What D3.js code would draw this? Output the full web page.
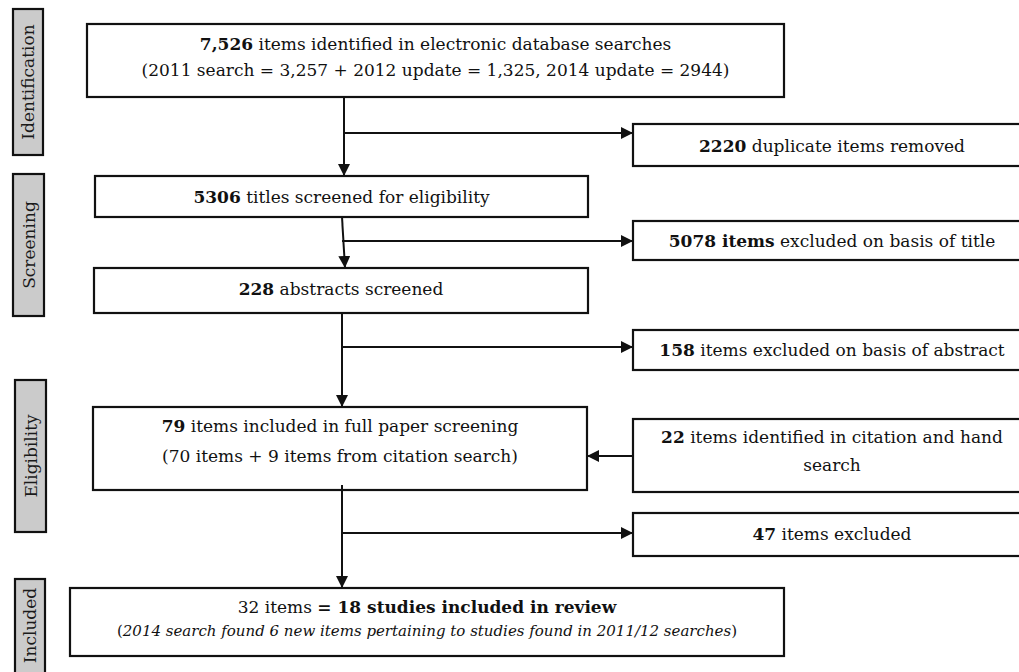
<!DOCTYPE html>
<html>
<head>
<meta charset="utf-8">
<script src="https://cdn.jsdelivr.net/npm/d3@7"></script>
<style>
  html, body { margin: 0; padding: 0; background: #fff; }
  svg { display: block; }
</style>
</head>
<body>
<svg id="flow"></svg>
<script>
// ---- data: stage labels and box texts (b = bold, i = italic) ----
const stageLabels = ['Identification', 'Screening', 'Eligibility', 'Included'];

const identText = [
  [{t: '7,526', b: true}, {t: ' items identified in electronic database searches'}],
  [{t: '(2011 search = 3,257 + 2012 update = 1,325, 2014 update = 2944)'}]
];
const duplicateText = [[{t: '2220', b: true}, {t: ' duplicate items removed'}]];
const titlesText    = [[{t: '5306', b: true}, {t: ' titles screened for eligibility'}]];
const titleExclText = [[{t: '5078 items', b: true}, {t: ' excluded on basis of title'}]];
const abstractText  = [[{t: '228', b: true}, {t: ' abstracts screened'}]];
const absExclText   = [[{t: '158', b: true}, {t: ' items excluded on basis of abstract'}]];
const fullText = [
  [{t: '79', b: true}, {t: ' items included in full paper screening'}],
  [{t: '(70 items + 9 items from citation search)'}]
];
const handText = [
  [{t: '22', b: true}, {t: ' items identified in citation and hand'}],
  [{t: 'search'}]
];
const fullExclText = [[{t: '47', b: true}, {t: ' items excluded'}]];
const includedText = [
  [{t: '32 items '}, {t: '= 18 studies included in review', b: true}],
  [{t: '('}, {t: '2014 search found 6 new items pertaining to studies found in 2011/12 searches', i: true}, {t: ')'}]
];

// ---- layout ----
const W = 1019, H = 672;
const FONT = "'DejaVu Serif', 'Liberation Serif', serif";

const svg = d3.select('#flow').attr('width', W).attr('height', H);

const defs = svg.append('defs');
defs.append('marker')
  .attr('id', 'arrow')
  .attr('viewBox', '0 0 12 12')
  .attr('refX', 12).attr('refY', 6)
  .attr('markerWidth', 12).attr('markerHeight', 12)
  .attr('markerUnits', 'userSpaceOnUse')
  .attr('orient', 'auto')
  .append('path').attr('d', 'M0,0 L12,6 L0,12 Z').attr('fill', '#111');

// stage side labels
const stageBoxes = [
  {x: 13, y: 9,   w: 30, h: 146},
  {x: 13, y: 174, w: 31, h: 142},
  {x: 15, y: 380, w: 31, h: 152},
  {x: 15, y: 579, w: 30, h: 100}
];
stageLabels.forEach((label, i) => {
  const s = stageBoxes[i];
  svg.append('rect')
    .attr('x', s.x).attr('y', s.y).attr('width', s.w).attr('height', s.h)
    .attr('fill', '#cbcbcb').attr('stroke', '#111').attr('stroke-width', 2.2);
  svg.append('text')
    .attr('transform', `translate(${s.x + s.w / 2 + 6},${s.y + Math.min(s.h, 672 - s.y) / 2}) rotate(-90)`)
    .attr('text-anchor', 'middle')
    .attr('font-family', FONT).attr('font-size', 17).attr('fill', '#1a1a1a')
    .text(label);
});

// flow boxes
const boxes = [
  {lines: identText,     x: 87,  y: 24,  w: 697, h: 73, base: [50, 76]},
  {lines: duplicateText, x: 633, y: 124, w: 390, h: 42, base: [152]},
  {lines: titlesText,    x: 95,  y: 176, w: 493, h: 41, base: [203]},
  {lines: titleExclText, x: 633, y: 221, w: 390, h: 39, base: [247]},
  {lines: abstractText,  x: 94,  y: 268, w: 494, h: 45, base: [295]},
  {lines: absExclText,   x: 633, y: 330, w: 390, h: 40, base: [356]},
  {lines: fullText,      x: 93,  y: 407, w: 494, h: 83, base: [432, 462]},
  {lines: handText,      x: 633, y: 419, w: 390, h: 73, base: [443, 471]},
  {lines: fullExclText,  x: 633, y: 513, w: 390, h: 43, base: [540]},
  {lines: includedText,  x: 70,  y: 588, w: 714, h: 68, base: [613, 636], sizes: [17, 15]}
];

boxes.forEach(b => {
  svg.append('rect')
    .attr('x', b.x).attr('y', b.y).attr('width', b.w).attr('height', b.h)
    .attr('fill', '#fff').attr('stroke', '#111').attr('stroke-width', 2.2);
  // right-hand boxes run off the page; their text sits round x = 832
  const cx = b.x === 633 ? 832 : b.x + b.w / 2;
  b.lines.forEach((segs, li) => {
    const txt = svg.append('text')
      .attr('x', cx).attr('y', b.base[li])
      .attr('text-anchor', 'middle')
      .attr('font-family', FONT)
      .attr('font-size', b.sizes ? b.sizes[li] : 17)
      .attr('fill', '#111');
    segs.forEach(s => {
      txt.append('tspan')
        .attr('font-weight', s.b ? 'bold' : 'normal')
        .attr('font-style', s.i ? 'italic' : 'normal')
        .text(s.t);
    });
  });
});

// connectors: [from, to, arrow]
const line = d3.line();
const connectors = [
  [[344, 97],  [344, 176], true],
  [[344, 133], [633, 133], true],
  [[342, 217], [345, 268], true],
  [[342, 241], [633, 241], true],
  [[342, 313], [342, 407], true],
  [[342, 347], [633, 347], true],
  [[633, 456], [587, 456], true],
  [[342, 485], [342, 588], true],
  [[342, 533], [633, 533], true]
];
connectors.forEach(c => {
  svg.append('path')
    .attr('d', line([c[0], c[1]]))
    .attr('stroke', '#111').attr('stroke-width', 2)
    .attr('fill', 'none')
    .attr('marker-end', c[2] ? 'url(#arrow)' : null);
});
</script>
</body>
</html>
